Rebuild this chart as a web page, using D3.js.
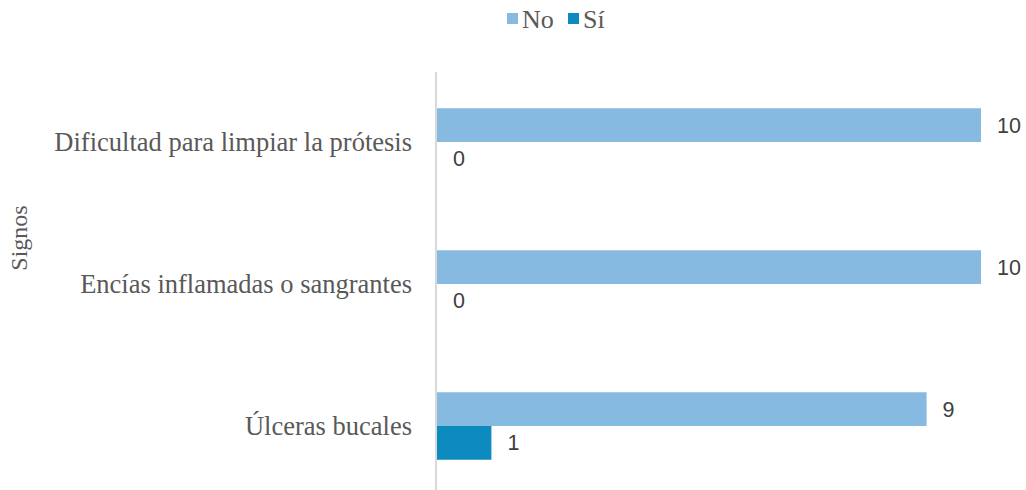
<!DOCTYPE html>
<html><head><meta charset="utf-8">
<script src="https://cdn.jsdelivr.net/npm/d3@7"></script>
<style>body{margin:0;background:#fff}</style>
</head><body>
<svg id="c" width="1026" height="490"></svg>
<script>
const categories = ["Dificultad para limpiar la prótesis", "Encías inflamadas o sangrantes", "Úlceras bucales"];
const seriesNames = ["No", "Sí"];
const noValues = [10, 10, 9];
const siValues = [0, 0, 1];
const colors = ["#86BAE0", "#0E8BBE"];

const svg = d3.select("#c");
const x = d3.scaleLinear().domain([0, 10]).range([436, 980]);
const y = d3.scaleBand().domain(categories).range([71, 497]).paddingInner(0).paddingOuter(0);
const sub = d3.scaleBand().domain(seriesNames).range([0, 67.5]);
const bandOffset = (y.bandwidth() - 67.5) / 2;

// axis line
svg.append("line").attr("x1", 436).attr("x2", 436).attr("y1", 72).attr("y2", 490)
  .attr("stroke", "#d9d9d9").attr("stroke-width", 2);

const series = [noValues, siValues];
series.forEach((vals, si) => {
  const g = svg.append("g");
  g.selectAll("rect").data(categories).enter().append("rect")
    .attr("x", x(0) + 1)
    .attr("y", (d) => y(d) + bandOffset + sub(seriesNames[si]))
    .attr("width", (d, i) => Math.max(0, x(vals[i]) - x(0)))
    .attr("height", sub.bandwidth())
    .attr("fill", colors[si]);
  g.selectAll("text").data(categories).enter().append("text")
    .attr("x", (d, i) => x(vals[i]) + 17)
    .attr("y", (d) => y(d) + bandOffset + sub(seriesNames[si]) + sub.bandwidth() / 2)
    .attr("dy", "0.35em")
    .attr("font-family", "'Liberation Sans', Arial, sans-serif")
    .attr("font-size", 21.5).attr("fill", "#404040")
    .text((d, i) => vals[i]);
});

// category labels
svg.append("g").selectAll("text").data(categories).enter().append("text")
  .attr("x", 412)
  .attr("y", (d) => y(d) + y.bandwidth() / 2)
  .attr("dy", "0.35em")
  .attr("text-anchor", "end")
  .attr("font-family", "'Liberation Serif', 'Times New Roman', serif")
  .attr("font-size", 26.5).attr("fill", "#595959")
  .text((d) => d);

// y axis title
svg.append("text")
  .attr("transform", "translate(27,238) rotate(-90)")
  .attr("text-anchor", "middle")
  .attr("font-family", "'Liberation Serif', 'Times New Roman', serif")
  .attr("font-size", 24).attr("fill", "#595959")
  .text("Signos");

// legend
const legend = svg.append("g");
const legendX = [507, 568];
seriesNames.forEach((n, i) => {
  legend.append("rect").attr("x", legendX[i]).attr("y", 13).attr("width", 11).attr("height", 11).attr("fill", colors[i]);
  legend.append("text").attr("x", legendX[i] + 15).attr("y", 19).attr("dy", "0.35em")
    .attr("font-family", "'Liberation Serif', 'Times New Roman', serif")
    .attr("font-size", 26).attr("fill", "#595959").text(n);
});
</script>
</body></html>
